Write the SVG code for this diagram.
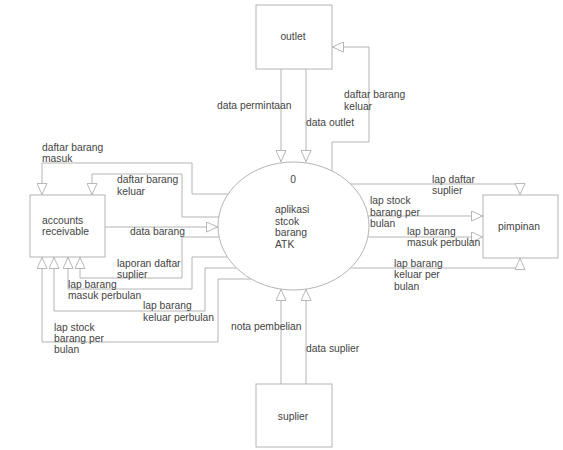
<svg xmlns="http://www.w3.org/2000/svg" width="563" height="450" viewBox="0 0 563 450">
  <style>
    .box { fill: #ffffff; stroke: #b4b4b4; stroke-width: 1; }
    .flow { fill: none; stroke: #b4b4b4; stroke-width: 1; marker-end: url(#head); }
    text { font-family: "Liberation Sans", Arial, sans-serif; font-size: 10.3px; fill: #444444; }
    .mid { text-anchor: middle; }
  </style>
  <defs>
    <marker id="head" viewBox="0 0 12 12" refX="12" refY="6" markerWidth="12" markerHeight="11" markerUnits="userSpaceOnUse" orient="auto" preserveAspectRatio="none">
      <path d="M0.5,0.5 L11.5,6 L0.5,11.5 Z" fill="#ffffff" stroke="#b4b4b4" stroke-width="1"/>
    </marker>
  </defs>
  <rect width="563" height="450" fill="#ffffff"/>

  <!-- data flows -->
  <g id="connectors">
    <!-- outlet <-> process -->
    <path class="flow" d="M281,69 V162"/>
    <path class="flow" d="M306,69 V162"/>
    <path class="flow" d="M332,171 V142 H369 V47 H332"/>
    <!-- suplier -> process -->
    <path class="flow" d="M281,384 V289"/>
    <path class="flow" d="M306,384 V289"/>
    <!-- process -> pimpinan -->
    <path class="flow" d="M350,184 H520 V195"/>
    <path class="flow" d="M368,216 H483"/>
    <path class="flow" d="M368,237 H483"/>
    <path class="flow" d="M350,268 H520 V258"/>
    <!-- process <-> accounts receivable -->
    <path class="flow" d="M228,194 H192 V163 H42 V195"/>
    <path class="flow" d="M219,217 H182 V174 H92 V195"/>
    <path class="flow" d="M105,227 H218"/>
    <path class="flow" d="M219,237 H182 V278 H80 V257"/>
    <path class="flow" d="M227,257 H192 V289 H68 V257"/>
    <path class="flow" d="M236.5,268 H205 V311 H54 V257"/>
    <path class="flow" d="M251,279 H218 V342 H42 V257"/>
  </g>

  <!-- flow labels -->
  <g id="flow-labels">
    <text x="217" y="109">data permintaan</text>
    <text x="306" y="126">data outlet</text>
    <text x="344" y="98">daftar barang</text>
    <text x="344" y="110">keluar</text>

    <text x="231" y="329.5">nota pembelian</text>
    <text x="306" y="351.5">data suplier</text>

    <text x="432" y="182.5">lap daftar</text>
    <text x="432" y="194">suplier</text>
    <text x="370" y="203.5">lap stock</text>
    <text x="370" y="215.5">barang per</text>
    <text x="370" y="227">bulan</text>
    <text x="407" y="235">lap barang</text>
    <text x="407" y="246">masuk perbulan</text>
    <text x="394" y="266.5">lap barang</text>
    <text x="394" y="278">keluar per</text>
    <text x="394" y="289.5">bulan</text>

    <text x="42" y="150.5">daftar barang</text>
    <text x="42" y="161.5">masuk</text>
    <text x="117" y="182.5">daftar barang</text>
    <text x="117" y="194.5">keluar</text>
    <text x="130" y="234.5">data barang</text>
    <text x="117" y="267">laporan daftar</text>
    <text x="117" y="277.5">suplier</text>
    <text x="68" y="287.5">lap barang</text>
    <text x="68" y="298.5">masuk perbulan</text>
    <text x="143" y="308.5">lap barang</text>
    <text x="143" y="320.5">keluar perbulan</text>
    <text x="54" y="330.5">lap stock</text>
    <text x="54" y="341.5">barang per</text>
    <text x="54" y="352.5">bulan</text>
  </g>

  <!-- external entities -->
  <g id="outlet">
    <rect class="box" x="256" y="5" width="76" height="64"/>
    <text class="mid" x="293" y="40">outlet</text>
  </g>
  <g id="suplier">
    <rect class="box" x="256" y="384" width="76" height="63"/>
    <text class="mid" x="293" y="419.5">suplier</text>
  </g>
  <g id="accounts-receivable">
    <rect class="box" x="30" y="195" width="75" height="62"/>
    <text x="42" y="223.5">accounts</text>
    <text x="42" y="234.5">receivable</text>
  </g>
  <g id="pimpinan">
    <rect class="box" x="483" y="195" width="75" height="63"/>
    <text class="mid" x="519" y="229.5">pimpinan</text>
  </g>

  <!-- process 0 -->
  <g id="process-0">
    <ellipse class="box" cx="293.5" cy="226" rx="75.5" ry="64"/>
    <text class="mid" x="293" y="183">0</text>
    <text x="275" y="213">aplikasi</text>
    <text x="275" y="224.5">stcok</text>
    <text x="275" y="236">barang</text>
    <text x="275" y="247.5">ATK</text>
  </g>
</svg>
